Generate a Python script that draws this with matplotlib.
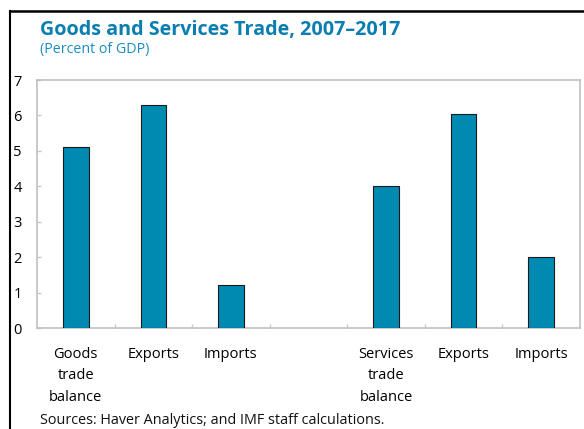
import matplotlib
matplotlib.use("Agg")
import matplotlib.pyplot as plt
from matplotlib.lines import Line2D

categories = ["Goods\ntrade\nbalance", "Exports", "Imports", "",
              "Services\ntrade\nbalance", "Exports", "Imports"]
values = [5.1, 6.3, 1.2, None, 4.0, 6.05, 2.0]
yticks = [0, 1, 2, 3, 4, 5, 6, 7]

plt.rcParams['font.family'] = ['Open Sans', 'DejaVu Sans']

W, H = 584, 429
fig = plt.figure(figsize=(W/100, H/100), dpi=100)
ax = fig.add_axes([37/W, 1-328/H, (580-37)/W, (328-80)/H])

xs = [i for i, v in enumerate(values) if v is not None]
vs = [v for v in values if v is not None]
ax.bar(xs, vs, width=0.33, color="#0089B1", edgecolor="#1a1a1a", linewidth=0.8, zorder=3)

ax.set_xlim(-0.5, len(categories)-0.5)
ax.set_ylim(0, 7)
ax.set_yticks(yticks)
ax.set_yticklabels([str(t) for t in yticks], ha="left")
ax.set_xticks(range(len(categories)))
ax.set_xticklabels(categories, fontsize=10.5, linespacing=1.55, va="top")
ax.set_xticks([i + 0.5 for i in range(len(categories)-1)], minor=True)
ax.tick_params(axis="x", which="major", length=0, pad=14)
ax.tick_params(axis="x", which="minor", direction="in", length=3, color="#c8c8c8", width=1)
ax.tick_params(axis="y", direction="in", length=3, color="#c8c8c8", width=1,
               labelsize=10.5, pad=17)
for s in ax.spines.values():
    s.set_color("#c0c0c0")
    s.set_linewidth(1.2)

fig.text(40/W, 1-30/H, "Goods and Services Trade, 2007\u20132017", fontsize=14.2,
         fontweight="bold", color="#0A7EB0", va="center", ha="left")
fig.text(40/W, 1-50/H, "(Percent of GDP)", fontsize=10.3, color="#1A8CC0",
         va="center", ha="left")
fig.text(40/W, 1-420/H, "Sources: Haver Analytics; and IMF staff calculations.",
         fontsize=10.4, color="#111111", va="center", ha="left")

fig.add_artist(Line2D([10/W, 10/W], [0, 1-11/H], color="black", lw=1.5,
                      transform=fig.transFigure))
fig.add_artist(Line2D([10/W, 1], [1-11/H, 1-11/H], color="black", lw=1.8,
                      transform=fig.transFigure))

fig.savefig("out.png", dpi=100)
